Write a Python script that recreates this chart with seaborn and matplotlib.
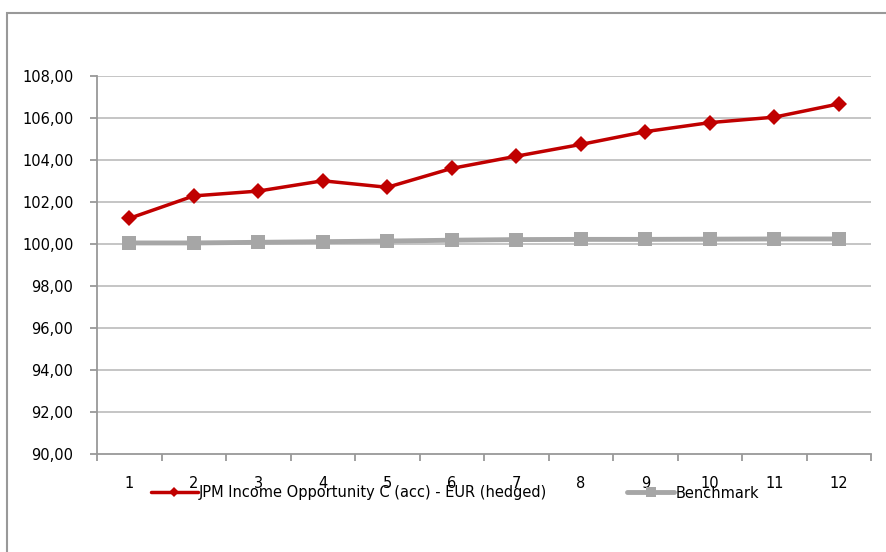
import matplotlib
matplotlib.use("Agg")
import matplotlib.pyplot as plt
import matplotlib.patches as mpatches
import seaborn as sns
import pandas as pd
from matplotlib.ticker import FuncFormatter

# values
months = list(range(1, 13))
fund_name = "JPM Income Opportunity C (acc) - EUR (hedged)"
fund = [101.22, 102.29, 102.52, 103.01, 102.70, 103.60,
        104.18, 104.74, 105.35, 105.78, 106.04, 106.67]
bench_name = "Benchmark"
bench = [100.05, 100.05, 100.08, 100.11, 100.14, 100.18,
         100.21, 100.22, 100.22, 100.23, 100.24, 100.24]
y_ticks = [90, 92, 94, 96, 98, 100, 102, 104, 106, 108]

df = pd.DataFrame({
    "month": months * 2,
    "value": fund + bench,
    "series": [fund_name] * 12 + [bench_name] * 12,
})

sns.set_style("white")
plt.rcParams["font.family"] = ["DejaVu Sans"]
plt.rcParams["text.color"] = "black"
plt.rcParams["xtick.color"] = "black"
plt.rcParams["ytick.color"] = "black"

fig = plt.figure(figsize=(8.86, 5.52), dpi=100)
ax = fig.add_axes([97 / 886, 1 - 454 / 552, (871 - 97) / 886, (454 - 76) / 552])

# outer chart border
fig.patches.append(mpatches.Rectangle((7 / 886, -0.05), 1.0, 1 - 13 / 552 + 0.05,
                                      transform=fig.transFigure, fill=False,
                                      edgecolor="#999999", linewidth=1.5))

for y in y_ticks[1:]:
    ax.axhline(y, color="#c0c0c0", linewidth=1.3, zorder=0)

sns.lineplot(data=df[df.series == bench_name], x="month", y="value",
             color="#a6a6a6", linewidth=3.5, marker="s", markersize=10,
             markeredgewidth=0, label=bench_name, ax=ax, zorder=3)
sns.lineplot(data=df[df.series == fund_name], x="month", y="value",
             color="#c00000", linewidth=2.5, marker="D", markersize=8,
             markeredgewidth=0, label=fund_name, ax=ax, zorder=4)

ax.set_xlim(0.5, 12.5)
ax.set_ylim(90, 108)
ax.set_yticks(y_ticks)
ax.yaxis.set_major_formatter(FuncFormatter(lambda v, p: f"{v:.2f}".replace(".", ",")))
ax.set_xticks([m - 0.5 for m in months] + [12.5])
ax.set_xticks(months, minor=True)
ax.set_xticklabels([])
ax.set_xticklabels([str(m) for m in months], minor=True)
ax.tick_params(axis="x", which="major", bottom=True, length=5, color="#999999",
               width=1.3, direction="out")
ax.tick_params(axis="x", which="minor", bottom=True, length=0, pad=16,
               labelsize=10.5, labelcolor="black")
ax.tick_params(axis="y", left=True, length=5, color="#999999", width=1.3,
               direction="out", pad=12, labelsize=10.5, labelcolor="black")
ax.set_xlabel("")
ax.set_ylabel("")

for s in ["top", "right"]:
    ax.spines[s].set_visible(False)
for s in ["left", "bottom"]:
    ax.spines[s].set_color("#999999")
    ax.spines[s].set_linewidth(1.3)

handles, labels = ax.get_legend_handles_labels()
order = [labels.index(fund_name), labels.index(bench_name)]
leg = ax.legend([handles[i] for i in order], [labels[i] for i in order],
                loc="center", bbox_to_anchor=(455 / 886, 1 - 493 / 552),
                bbox_transform=fig.transFigure, ncol=2, frameon=False,
                fontsize=10.5, handlelength=3.2, handletextpad=0.1,
                columnspacing=5.5, markerscale=0.7)
for t in leg.get_texts():
    t.set_color("black")

fig.savefig("out.png", dpi=100)
